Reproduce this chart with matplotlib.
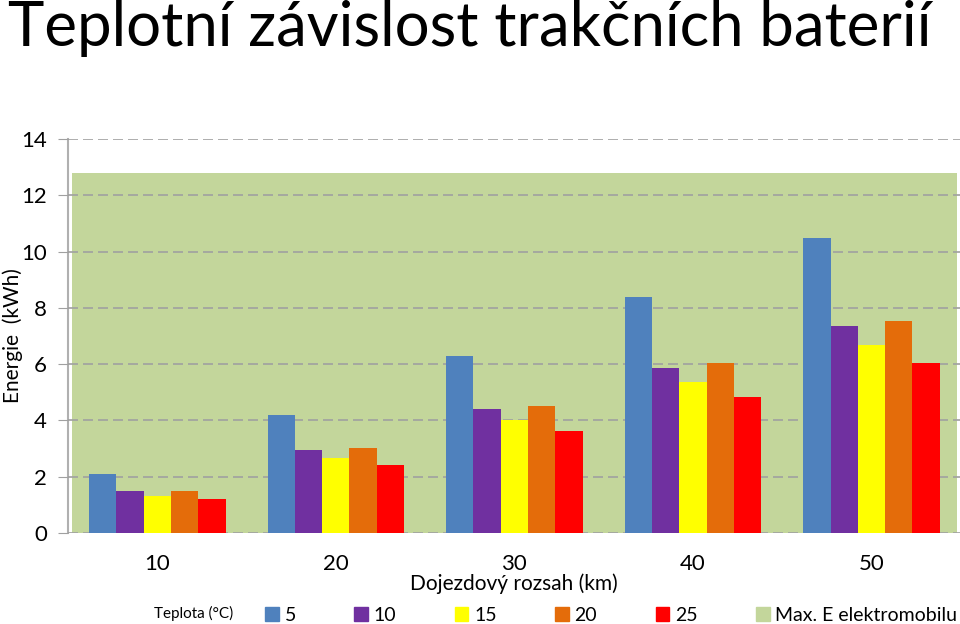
import matplotlib
matplotlib.use('Agg')
import matplotlib.pyplot as plt
import numpy as np
from matplotlib.patches import Patch

# data
rozsah = ['10', '20', '30', '40', '50']
teploty = ['5', '10', '15', '20', '25']
energie_5 = [2.10, 4.19, 6.29, 8.39, 10.50]
energie_10 = [1.49, 2.93, 4.41, 5.86, 7.34]
energie_15 = [1.31, 2.67, 4.02, 5.37, 6.68]
energie_20 = [1.49, 3.02, 4.51, 6.04, 7.55]
energie_25 = [1.21, 2.42, 3.62, 4.83, 6.05]
max_e = 12.8

serie = [energie_5, energie_10, energie_15, energie_20, energie_25]
barvy = ['#4F81BD', '#7030A0', '#FFFF00', '#E46C0A', '#FF0000']
zelena = '#C3D69B'

plt.rcParams['font.family'] = ['Lato', 'DejaVu Sans']

fig = plt.figure(figsize=(9.6, 6.24), dpi=100)
ax = fig.add_axes([0.0708, 0.146, 0.93, 0.631])

x = np.arange(len(rozsah))
w = 0.153
ax.fill_between([-0.48, len(rozsah) - 0.52], 0, max_e, color=zelena, zorder=1, linewidth=0)
for i, (vals, c) in enumerate(zip(serie, barvy)):
    ax.bar(x + (i - 2) * w, vals, w, color=c, zorder=3)

ax.set_xlim(-0.5, len(rozsah) - 0.5)
ax.set_ylim(0, 14)
ax.set_yticks(range(0, 15, 2))
ax.set_xticks(x)
ax.set_xticklabels(rozsah)
ax.tick_params(axis='x', length=0, labelsize=16, pad=15)
ax.tick_params(axis='y', length=7, color='#A0A0A0', labelsize=16, pad=8)
ax.yaxis.grid(True, linestyle=(0, (6, 3)), color='#A0A0A0', linewidth=1.2, zorder=2)
ax.set_axisbelow(False)
for s in ['top', 'right', 'bottom']:
    ax.spines[s].set_visible(False)
ax.spines['left'].set_color('#B0B0B0')
ax.spines['left'].set_linewidth(1.5)

ax.set_xlabel('Dojezdový rozsah (km)', fontsize=15, labelpad=0)
ax.set_ylabel('Energie  (kWh)', fontsize=15)
ax.yaxis.set_label_coords(-0.05, 0.5)

fig.text(0.008, 0.955, 'Teplotní závislost trakčních baterií', fontsize=44.5, va='center', ha='left')

fig.text(0.16, 0.005, 'Teplota (°C)', fontsize=11, va='bottom')
handles = [Patch(color=c) for c in barvy] + [Patch(color=zelena)]
labels = teploty + ['Max. E elektromobilu']
fig.legend(handles, labels, ncol=6, loc='lower left', bbox_to_anchor=(0.258, -0.028),
           frameon=False, fontsize=14, handlelength=0.7, handleheight=0.7,
           handletextpad=0.3, columnspacing=3.0)

fig.savefig('out.png', dpi=100)
